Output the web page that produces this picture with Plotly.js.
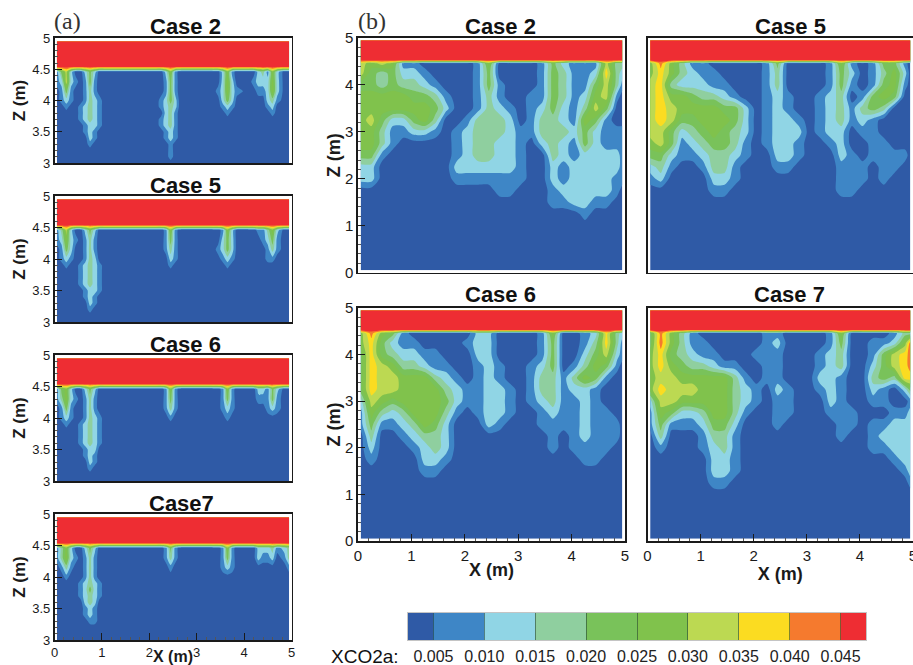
<!DOCTYPE html>
<html><head><meta charset="utf-8">
<script src="https://cdn.plot.ly/plotly-3.0.1.min.js"></script>
<style>html,body{margin:0;padding:0;background:#fff;overflow:hidden}</style>
</head><body><div id="chart" style="width:913px;height:665px"></div>
<script>
// XCO2a band colours and band-centre values (index = band)
const bandColors = ['#2F5AA6','#3E86C6','#90D5E5','#8FCF9F','#79C25A','#80C24C','#BCD952','#FBDC21','#F57A2E','#EE2D33'];
const bandValues = [0.0025,0.0075,0.0125,0.0175,0.0225,0.0275,0.0325,0.0375,0.0425,0.0475];
const barEdges = [0.0025,0.005,0.01,0.015,0.02,0.025,0.03,0.035,0.04,0.045,0.0475];
const barTicks = [0.005,0.01,0.015,0.02,0.025,0.03,0.035,0.04,0.045];

// grid of panels (b)
const xB = [0.05,0.25,0.45,0.65,0.85,1.05,1.25,1.45,1.65,1.85,2.05,2.25,2.45,2.65,2.85,3.05,3.25,3.45,3.65,3.85,4.05,4.25,4.45,4.65,4.85,4.95];
const zB = [4.95,4.53,4.46,4.25,4,3.75,3.5,3.25,3,2.75,2.5,2.25,2,1.75,1.5,1.25,1,0.05];
// grid of panels (a)
const xA = [0.05,0.15,0.25,0.35,0.45, 0.55,0.65,0.75,0.85,0.95,1.05, 2.15, 2.25,2.35,2.45,2.55,2.65, 3.35, 3.45,3.55,3.65,3.75,3.85, 4.1, 4.2,4.3,4.4,4.5,4.6,4.7,4.85,4.95];
const zA = [4.95,4.54,4.46,4.3,4.15,4,3.9,3.8,3.7,3.6,3.5,3.4,3.3,3.2,3.1,3];

// band index per grid node, rows from z=4.46 downward; rows not listed are background
const caseB2 = [
[6,5,6,5,1,1,0,0,0,0,0,1,5,0,0,0,0,1,4,2,1,1,1,6,3,3],
[6,4,3,4,2,2,1,0,0,0,0,1,4,0,0,0,0,1,4,3,1,1,2,7,3,2],
[4,4,3,4,3,3,2,1,0,0,0,1,4,1,0,0,0,1,4,3,1,1,4,6,3,1],
[5,5,5,5,5,4,4,3,1,0,0,1,3,1,0,0,1,1,4,3,1,2,5,6,1,0],
[5,5,5,5,5,5,5,4,2,0,0,1,3,2,1,0,1,2,4,2,1,3,6,4,0,0],
[5,6,4,2,2,4,5,3,0,0,1,3,3,3,2,0,1,3,3,2,1,5,4,1,0,0],
[5,5,3,1,1,2,2,1,0,1,2,3,3,3,2,1,1,3,3,3,2,4,2,1,1,1],
[5,5,3,1,0,0,0,0,0,1,2,3,3,2,2,1,0,2,3,2,1,4,2,1,1,1],
[4,4,1,0,0,0,0,0,0,1,2,3,3,2,2,1,0,0,3,2,1,2,2,2,2,1],
[2,2,0,0,0,0,0,0,0,2,2,2,2,2,2,1,0,0,2,1,2,2,2,2,2,1],
[2,2,0,0,0,0,0,0,0,1,1,1,1,1,1,1,0,0,2,1,2,2,2,2,1,1],
[0,0,0,0,0,0,0,0,0,0,0,0,0,1,1,0,0,0,1,2,2,2,2,2,1,0],
[0,0,0,0,0,0,0,0,0,0,0,0,0,0,0,0,0,0,1,1,2,2,1,1,0,0],
[0,0,0,0,0,0,0,0,0,0,0,0,0,0,0,0,0,0,0,0,0,1,0,0,0,0]];
const caseB5 = [
[5,8,5,3,1,1,0,0,0,0,0,1,4,0,0,0,0,1,5,1,0,1,4,4,1,0],
[5,7,5,3,2,1,1,0,0,0,0,1,3,0,0,0,0,1,4,2,0,1,3,5,2,0],
[6,7,3,2,2,2,1,1,0,0,0,1,3,0,0,0,0,1,4,1,0,1,4,5,1,0],
[6,7,5,5,4,3,3,2,1,0,0,1,2,1,0,0,1,2,3,0,1,4,5,4,0,0],
[6,7,6,5,5,5,5,4,4,2,0,1,2,1,0,0,1,2,3,1,3,4,3,0,0,0],
[6,7,6,4,4,5,5,5,4,2,0,1,2,2,1,0,1,2,3,1,2,1,0,0,0,0],
[6,6,4,2,3,4,5,4,3,2,0,1,2,2,2,0,1,2,2,0,1,1,0,0,0,0],
[5,6,4,1,2,3,4,4,3,1,0,1,2,2,1,0,0,1,2,0,0,1,1,0,0,0],
[4,4,2,1,1,2,3,3,2,1,0,0,2,2,1,0,0,0,2,1,0,1,1,1,1,0],
[2,3,1,0,0,1,3,3,1,0,0,0,1,1,0,0,0,0,1,1,1,0,1,1,0,0],
[1,2,0,0,0,0,2,2,1,0,0,0,0,0,0,0,0,0,1,1,1,0,1,0,0,0],
[0,0,0,0,0,0,1,1,0,0,0,0,0,0,0,0,0,0,1,1,0,0,0,0,0,0]];
const caseB6 = [
[5,8,5,4,1,0,0,0,0,0,0,2,2,0,0,0,0,1,5,0,0,1,2,7,3,2],
[5,7,4,2,1,1,0,0,0,0,1,2,2,0,0,0,0,1,4,0,0,1,3,7,3,1],
[4,7,4,3,2,2,1,1,0,0,0,2,2,0,0,0,0,1,4,0,0,2,4,6,2,1],
[4,7,6,5,3,3,2,1,1,0,0,1,2,1,0,0,1,2,4,0,1,3,5,4,1,0],
[4,7,6,6,5,5,5,3,2,1,0,1,2,1,0,0,1,3,3,1,3,5,4,1,0,0],
[4,7,6,6,5,5,5,5,3,2,1,1,2,2,1,0,1,3,3,1,2,2,1,0,0,0],
[2,6,5,4,5,5,5,5,4,2,1,1,2,2,1,0,1,2,3,1,1,2,1,0,0,0],
[1,5,3,2,3,5,5,5,3,1,0,1,2,2,1,0,0,1,2,1,1,2,1,1,0,0],
[1,4,1,1,2,3,5,4,2,0,0,0,2,1,0,0,0,1,1,1,1,2,1,1,1,0],
[0,3,0,0,1,2,3,3,2,0,0,0,0,0,0,0,0,0,1,0,1,2,1,1,1,0],
[0,2,0,0,0,1,2,3,2,0,0,0,0,0,0,0,0,0,1,0,1,1,1,1,0,0],
[0,1,0,0,0,0,2,2,1,0,0,0,0,0,0,0,0,0,0,0,0,1,1,0,0,0],
[0,0,0,0,0,0,1,1,0,0,0,0,0,0,0,0,0,0,0,0,0,0,0,0,0,0]];
const caseB7 = [
[4,8,5,3,1,0,0,0,0,0,0,1,1,0,0,0,0,1,5,0,0,0,0,1,3,3],
[4,8,5,3,1,1,0,0,0,0,0,1,2,0,0,0,0,1,4,0,0,1,1,2,5,8],
[5,7,4,3,2,1,1,0,0,0,1,1,1,0,0,0,1,2,3,0,0,1,4,6,7,8],
[5,7,5,4,3,3,2,1,1,0,0,1,1,0,0,0,1,2,3,0,0,2,4,6,7,8],
[5,6,6,5,5,5,5,5,3,1,0,1,1,0,0,0,2,2,1,0,0,3,4,3,7,7],
[5,7,6,6,6,5,5,5,3,2,1,0,2,1,0,0,1,2,1,0,0,2,1,0,2,4],
[2,6,6,5,5,5,5,5,3,2,1,0,1,1,0,0,0,2,1,0,0,1,1,0,0,1],
[1,5,4,2,2,3,5,5,3,1,0,0,1,1,0,0,0,1,1,1,0,0,0,1,1,2],
[1,4,1,1,1,2,4,4,2,0,0,0,1,0,0,0,0,0,1,1,0,1,1,2,2,2],
[0,3,0,0,0,1,3,3,1,0,0,0,0,0,0,0,0,0,1,0,0,1,2,2,2,2],
[0,1,0,0,0,1,2,3,1,0,0,0,0,0,0,0,0,0,0,0,0,1,1,2,2,2],
[0,0,0,0,0,0,2,2,1,0,0,0,0,0,0,0,0,0,0,0,0,0,0,1,2,2],
[0,0,0,0,0,0,2,2,1,0,0,0,0,0,0,0,0,0,0,0,0,0,0,0,1,2],
[0,0,0,0,0,0,1,1,0,0,0,0,0,0,0,0,0,0,0,0,0,0,0,0,0,1]];

const caseA2 = [
[1,4,6,2,0, 0,2,4,2,0,0, 0, 0,2,5,1,0, 0, 0,2,5,1,0, 0, 0,2,3,1,5,2,0,0],
[1,2,6,2,1, 0,1,4,1,0,0, 0, 0,1,4,1,0, 0, 0,2,5,2,0, 0, 1,2,2,2,5,2,0,0],
[0,1,4,1,0, 0,1,3,1,0,0, 0, 0,1,4,1,0, 0, 1,2,5,2,1, 0, 0,1,1,2,5,2,0,0],
[0,1,2,1,0, 0,1,3,2,1,0, 0, 1,2,4,2,0, 0, 0,2,4,2,0, 0, 0,0,0,2,3,1,0,0],
[0,0,1,0,0, 1,2,3,2,1,0, 0, 1,2,3,2,0, 0, 0,1,2,1,0, 0, 0,0,0,1,2,0,0,0],
[0,0,0,0,0, 1,2,3,2,1,0, 0, 0,2,3,1,0, 0, 0,0,1,0,0, 0, 0,0,0,0,1,0,0,0],
[0,0,0,0,0, 1,2,3,2,1,0, 0, 1,2,3,1,0, 0, 0,0,0,0,0, 0, 0,0,0,0,0,0,0,0],
[0,0,0,0,0, 0,1,2,2,1,0, 0, 1,2,3,1,0, 0, 0,0,0,0,0, 0, 0,0,0,0,0,0,0,0],
[0,0,0,0,0, 0,1,2,1,0,0, 0, 0,1,2,1,0, 0, 0,0,0,0,0, 0, 0,0,0,0,0,0,0,0],
[0,0,0,0,0, 0,0,2,1,0,0, 0, 0,1,2,1,0, 0, 0,0,0,0,0, 0, 0,0,0,0,0,0,0,0],
[0,0,0,0,0, 0,0,1,0,0,0, 0, 0,0,1,0,0, 0, 0,0,0,0,0, 0, 0,0,0,0,0,0,0,0],
[0,0,0,0,0, 0,0,0,0,0,0, 0, 0,0,1,0,0, 0, 0,0,0,0,0, 0, 0,0,0,0,0,0,0,0],
[0,0,0,0,0, 0,0,0,0,0,0, 0, 0,0,1,0,0, 0, 0,0,0,0,0, 0, 0,0,0,0,0,0,0,0]];
const caseA5 = [
[1,3,6,2,0, 0,2,4,2,0,0, 0, 0,1,5,1,0, 0, 0,1,5,2,0, 0, 0,1,1,3,5,2,0,0],
[1,2,5,2,1, 0,1,3,1,0,0, 0, 0,1,4,1,0, 0, 0,2,4,2,0, 0, 0,0,1,2,4,1,0,0],
[0,1,4,2,0, 0,1,3,1,0,0, 0, 0,1,3,1,0, 0, 1,2,4,2,0, 0, 0,0,0,1,3,1,0,0],
[0,1,2,1,0, 0,1,3,2,0,0, 0, 0,0,2,1,0, 0, 0,1,2,1,0, 0, 0,0,0,1,1,0,0,0],
[0,0,1,0,0, 1,2,3,2,1,0, 0, 0,0,1,0,0, 0, 0,0,1,0,0, 0, 0,0,0,0,0,0,0,0],
[0,0,0,0,0, 1,2,3,2,1,0, 0, 0,0,0,0,0, 0, 0,0,0,0,0, 0, 0,0,0,0,0,0,0,0],
[0,0,0,0,0, 1,2,3,2,1,0, 0, 0,0,0,0,0, 0, 0,0,0,0,0, 0, 0,0,0,0,0,0,0,0],
[0,0,0,0,0, 1,2,3,2,1,0, 0, 0,0,0,0,0, 0, 0,0,0,0,0, 0, 0,0,0,0,0,0,0,0],
[0,0,0,0,0, 0,1,2,2,1,0, 0, 0,0,0,0,0, 0, 0,0,0,0,0, 0, 0,0,0,0,0,0,0,0],
[0,0,0,0,0, 0,1,2,1,0,0, 0, 0,0,0,0,0, 0, 0,0,0,0,0, 0, 0,0,0,0,0,0,0,0],
[0,0,0,0,0, 0,0,2,1,0,0, 0, 0,0,0,0,0, 0, 0,0,0,0,0, 0, 0,0,0,0,0,0,0,0],
[0,0,0,0,0, 0,0,1,0,0,0, 0, 0,0,0,0,0, 0, 0,0,0,0,0, 0, 0,0,0,0,0,0,0,0]];
const caseA6 = [
[1,4,5,2,0, 0,2,4,2,0,0, 0, 0,1,5,1,0, 0, 0,1,5,1,0, 0, 0,2,2,1,4,2,0,0],
[1,3,5,2,1, 0,1,3,1,0,0, 0, 0,1,4,1,0, 0, 0,1,4,1,0, 0, 0,1,1,1,4,1,0,0],
[0,1,4,1,0, 0,1,3,1,0,0, 0, 0,1,3,1,0, 0, 0,1,2,1,0, 0, 0,0,0,1,2,1,0,0],
[0,1,2,1,0, 0,1,3,2,1,0, 0, 0,0,1,0,0, 0, 0,0,1,0,0, 0, 0,0,0,0,0,0,0,0],
[0,0,1,0,0, 1,2,3,2,1,0, 0, 0,0,0,0,0, 0, 0,0,0,0,0, 0, 0,0,0,0,0,0,0,0],
[0,0,0,0,0, 1,2,3,2,1,0, 0, 0,0,0,0,0, 0, 0,0,0,0,0, 0, 0,0,0,0,0,0,0,0],
[0,0,0,0,0, 1,2,3,2,1,0, 0, 0,0,0,0,0, 0, 0,0,0,0,0, 0, 0,0,0,0,0,0,0,0],
[0,0,0,0,0, 1,2,3,2,1,0, 0, 0,0,0,0,0, 0, 0,0,0,0,0, 0, 0,0,0,0,0,0,0,0],
[0,0,0,0,0, 0,1,2,2,0,0, 0, 0,0,0,0,0, 0, 0,0,0,0,0, 0, 0,0,0,0,0,0,0,0],
[0,0,0,0,0, 0,1,2,1,0,0, 0, 0,0,0,0,0, 0, 0,0,0,0,0, 0, 0,0,0,0,0,0,0,0],
[0,0,0,0,0, 0,0,2,1,0,0, 0, 0,0,0,0,0, 0, 0,0,0,0,0, 0, 0,0,0,0,0,0,0,0],
[0,0,0,0,0, 0,0,1,0,0,0, 0, 0,0,0,0,0, 0, 0,0,0,0,0, 0, 0,0,0,0,0,0,0,0]];
const caseA7 = [
[1,3,5,2,0, 0,2,4,2,0,0, 0, 0,1,4,1,0, 0, 0,1,5,1,0, 0, 0,2,2,2,3,1,2,3],
[1,3,5,2,1, 0,1,3,1,0,0, 0, 0,1,3,1,0, 0, 0,1,4,1,0, 0, 0,2,1,1,2,0,1,3],
[0,1,3,1,0, 0,1,3,1,0,0, 0, 0,0,1,0,0, 0, 0,1,2,1,0, 0, 0,0,0,0,0,0,0,1],
[0,0,1,0,0, 0,1,3,1,0,0, 0, 0,0,0,0,0, 0, 0,0,0,0,0, 0, 0,0,0,0,0,0,0,0],
[0,0,0,0,0, 1,2,3,2,1,0, 0, 0,0,0,0,0, 0, 0,0,0,0,0, 0, 0,0,0,0,0,0,0,0],
[0,0,0,0,0, 1,2,4,2,1,0, 0, 0,0,0,0,0, 0, 0,0,0,0,0, 0, 0,0,0,0,0,0,0,0],
[0,0,0,0,0, 1,2,3,2,1,0, 0, 0,0,0,0,0, 0, 0,0,0,0,0, 0, 0,0,0,0,0,0,0,0],
[0,0,0,0,0, 0,2,3,2,0,0, 0, 0,0,0,0,0, 0, 0,0,0,0,0, 0, 0,0,0,0,0,0,0,0],
[0,0,0,0,0, 0,1,2,1,0,0, 0, 0,0,0,0,0, 0, 0,0,0,0,0, 0, 0,0,0,0,0,0,0,0],
[0,0,0,0,0, 0,1,2,1,0,0, 0, 0,0,0,0,0, 0, 0,0,0,0,0, 0, 0,0,0,0,0,0,0,0],
[0,0,0,0,0, 0,0,1,1,0,0, 0, 0,0,0,0,0, 0, 0,0,0,0,0, 0, 0,0,0,0,0,0,0,0]];

const W = 913, H = 665, FONT = '"Liberation Sans", Arial, sans-serif';
const colorscale = bandColors.map((c,i)=>[i/(bandColors.length-1),c]);
const dx = p => [p[0]/W, Math.min(1,p[1]/W)], dy = p => [1-p[1]/H, 1-p[0]/H];

// x0,x1,y0,y1 in px; title position in px
const panels = [
 {rows:caseA2, x:xA, z:zA, box:[54.5,291.5,38,163],  title:'Case 2', t:[185,26],  range:[3,5], kind:'a'},
 {rows:caseA5, x:xA, z:zA, box:[54.5,291.5,196,322], title:'Case 5', t:[185,185], range:[3,5], kind:'a'},
 {rows:caseA6, x:xA, z:zA, box:[54.5,291.5,355,481], title:'Case 6', t:[185,344], range:[3,5], kind:'a'},
 {rows:caseA7, x:xA, z:zA, box:[54.5,291.5,514,640], title:'Case7',  t:[181,503], range:[3,5], kind:'a', xlab:true},
 {rows:caseB2, x:xB, z:zB, box:[358,625,38,272.7],   title:'Case 2', t:[500,26],  range:[0,5], kind:'b', ylab:true},
 {rows:caseB5, x:xB, z:zB, box:[647.5,913,38,272.7], title:'Case 5', t:[790,26],  range:[0,5], kind:'b'},
 {rows:caseB6, x:xB, z:zB, box:[358,625,308,541],    title:'Case 6', t:[500,295], range:[0,5], kind:'b', ylab:true, xlab:true},
 {rows:caseB7, x:xB, z:zB, box:[647.5,913,308,541],  title:'Case 7', t:[789,295], range:[0,5], kind:'b', xlab:true}
];

const traces = [], layout = {width:W, height:H, margin:{l:0,r:0,t:0,b:0}, paper_bgcolor:'#fff', plot_bgcolor:'#fff',
  showlegend:false, font:{family:FONT,color:'#1a1a1a'}, annotations:[]};

panels.forEach((p,i)=>{
  const n = i+1, xn='xaxis'+n, yn='yaxis'+n;
  const cap = p.x.map(()=>bandValues[9]), blank = p.x.map(()=>bandValues[0]);
  const grid = p.z.map((_,r)=> r<2 ? cap : (p.rows[r-2] ? p.rows[r-2].map(b=>bandValues[b]) : blank));
  const isA = p.kind==='a', fs = isA?13:15;
  traces.push({type:'contour', x:p.x, y:p.z.slice().reverse(), z:grid.slice().reverse(), xaxis:'x'+n, yaxis:'y'+n,
    autocontour:false, contours:{start:0.005,end:0.0451,size:0.005,coloring:'fill',showlines:false},
    line:{width:0,smoothing:isA?0.6:0.75}, zauto:false, zmin:0.0025, zmax:0.0475, colorscale, showscale:false, hoverinfo:'skip'});
  const showXticks = !!p.xlab, showYticks = isA || p.ylab;
  layout[xn] = {domain:dx(p.box), range:[0,5], anchor:'y'+n, showgrid:false, zeroline:false, showline:true, mirror:true,
    linecolor:'#1a1a1a', linewidth:1.6, dtick:1, tick0:0, ticks:showXticks?'inside':'', ticklen:7, tickcolor:'#1a1a1a', tickwidth:1,
    showticklabels:!!p.xlab, tickfont:{size:fs,color:'#1a1a1a'}, ticklabeloverflow:'allow',
    minor: showXticks?{ticks:'inside',dtick:0.2,ticklen:3,tickcolor:'#555',tickwidth:1}:undefined};
  if (p.xlab) layout[xn].title = {text:'<b>X (m)</b>', font:{size:isA?16:18,color:'#1a1a1a'}, standoff:isA?-5:1};
  layout[yn] = {domain:dy([p.box[2],p.box[3]]), range:p.range, anchor:'x'+n, showgrid:false, zeroline:false, showline:true, mirror:true,
    linecolor:'#1a1a1a', linewidth:1.6, dtick:isA?0.5:1, tick0:0, ticks:showYticks?'inside':'', ticklen:7, tickcolor:'#1a1a1a', tickwidth:1,
    showticklabels:isA||!!p.ylab, tickfont:{size:fs,color:'#1a1a1a'},
    minor: showYticks?{ticks:'inside',dtick:isA?0.1:0.2,ticklen:3,tickcolor:'#555',tickwidth:1}:undefined};
  if (isA||p.ylab) layout[yn].title = {text:'<b>Z (m)</b>', font:{size:isA?17:18,color:'#1a1a1a'}, standoff:isA?2:0};
  layout.annotations.push({text:'<b>'+p.title+'</b>', xref:'paper', yref:'paper', x:p.t[0]/W, y:1-p.t[1]/H,
    xanchor:'center', yanchor:'middle', showarrow:false, font:{size:22,color:'#111'}});
});

// legend bar drawn on its own axes
traces.push({type:'heatmap', x:barEdges, y:[0,1], z:[bandValues], xaxis:'x9', yaxis:'y9', zauto:false, zmin:0.0025, zmax:0.0475,
  colorscale, showscale:false, hoverinfo:'skip'});
layout.xaxis9 = {domain:[408/W,866/W], range:[0.0025,0.0475], anchor:'y9', tickvals:barTicks, tickformat:'.3f', ticks:'inside', ticklen:27,
  tickwidth:1, tickcolor:'rgba(30,60,50,0.55)', showgrid:false, zeroline:false, showline:true, mirror:true, linecolor:'#c4c4c4', linewidth:1,
  tickfont:{size:16,color:'#222'}, ticklabelstandoff:2};
layout.yaxis9 = {domain:[1-640/H,1-613/H], range:[0,1], anchor:'x9', showticklabels:false, ticks:'', showgrid:false, zeroline:false,
  showline:true, mirror:true, linecolor:'#c4c4c4', linewidth:1};

layout.annotations.push(
 {text:'XCO2a:', xref:'paper', yref:'paper', x:329/W, y:1-656/H, xanchor:'left', yanchor:'middle', showarrow:false, font:{size:19,color:'#111'}},
 {text:'(a)', xref:'paper', yref:'paper', x:67/W, y:1-21/H, xanchor:'center', yanchor:'middle', showarrow:false, font:{size:24,family:'"Liberation Serif", serif',color:'#333'}},
 {text:'(b)', xref:'paper', yref:'paper', x:372/W, y:1-21/H, xanchor:'center', yanchor:'middle', showarrow:false, font:{size:24,family:'"Liberation Serif", serif',color:'#333'}}
);

Plotly.newPlot('chart', traces, layout, {displayModeBar:false, staticPlot:true});
</script></body></html>
